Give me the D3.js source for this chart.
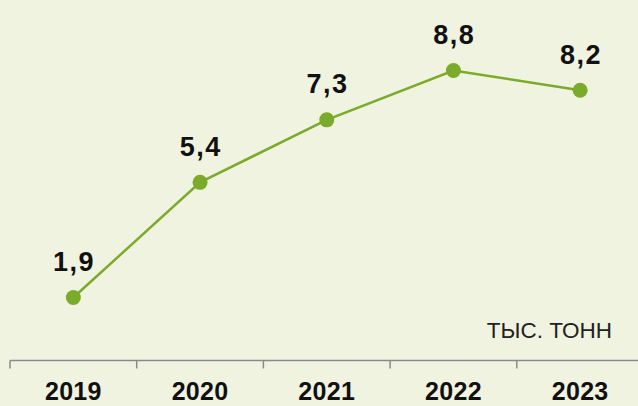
<!DOCTYPE html>
<html><head><meta charset="utf-8">
<script src="https://cdn.jsdelivr.net/npm/d3@7"></script>
<style>html,body{margin:0;padding:0;background:#f1f3e1;}svg{display:block;}</style>
</head><body>
<svg id="c" width="638" height="406"></svg>
<script>
const categories = ["2019","2020","2021","2022","2023"];
const values = [1.9, 5.4, 7.3, 8.8, 8.2];
const valueLabels = ["1,9","5,4","7,3","8,8","8,2"];
const unitLabel = "ТЫС. ТОНН";

const svg = d3.select("#c");
svg.append("rect").attr("width",638).attr("height",406).attr("fill","#f1f3e1");
const x = d3.scaleBand().domain(categories).range([10, 643.5]);
const y = d3.scaleLinear().domain([0, 8.8]).range([360, 70.5]);
const font = "'Liberation Sans', Arial, sans-serif";

const ax = svg.append("g").attr("transform","translate(0,360.5)");
ax.append("line").attr("x1",10).attr("x2",638).attr("stroke","#8a8a8a").attr("stroke-width",1.5);
ax.selectAll("line.t").data(categories).join("line").attr("class","t")
  .attr("x1",d=>x(d)).attr("x2",d=>x(d)).attr("y1",0).attr("y2",8)
  .attr("stroke","#8a8a8a").attr("stroke-width",1.5);
svg.selectAll("text.yr").data(categories).join("text").attr("class","yr")
  .attr("x",d=>x(d)+x.bandwidth()/2).attr("y",400).attr("text-anchor","middle")
  .attr("font-family",font).attr("font-weight","bold").attr("font-size",25).attr("letter-spacing",0.3).attr("fill","#111")
  .text(d=>d);

const line = d3.line().x((d,i)=>x(categories[i])+x.bandwidth()/2).y(d=>y(d));
svg.append("path").datum(values).attr("d",line).attr("fill","none")
  .attr("stroke","#7aab2a").attr("stroke-width",2.5);
svg.selectAll("circle").data(values).join("circle")
  .attr("cx",(d,i)=>x(categories[i])+x.bandwidth()/2).attr("cy",d=>y(d)).attr("r",7.5)
  .attr("fill","#7aab2a");
svg.selectAll("text.v").data(values).join("text").attr("class","v")
  .attr("x",(d,i)=>x(categories[i])+x.bandwidth()/2+0.75).attr("y",d=>y(d)-26.5)
  .attr("text-anchor","middle").attr("font-family",font).attr("font-weight","bold")
  .attr("font-size",27).attr("letter-spacing",1.5).attr("fill","#111").text((d,i)=>valueLabels[i]);
svg.append("text").attr("x",612).attr("y",338).attr("text-anchor","end")
  .attr("font-family",font).attr("font-size",22.5).attr("fill","#222").text(unitLabel);
</script>
</body></html>
